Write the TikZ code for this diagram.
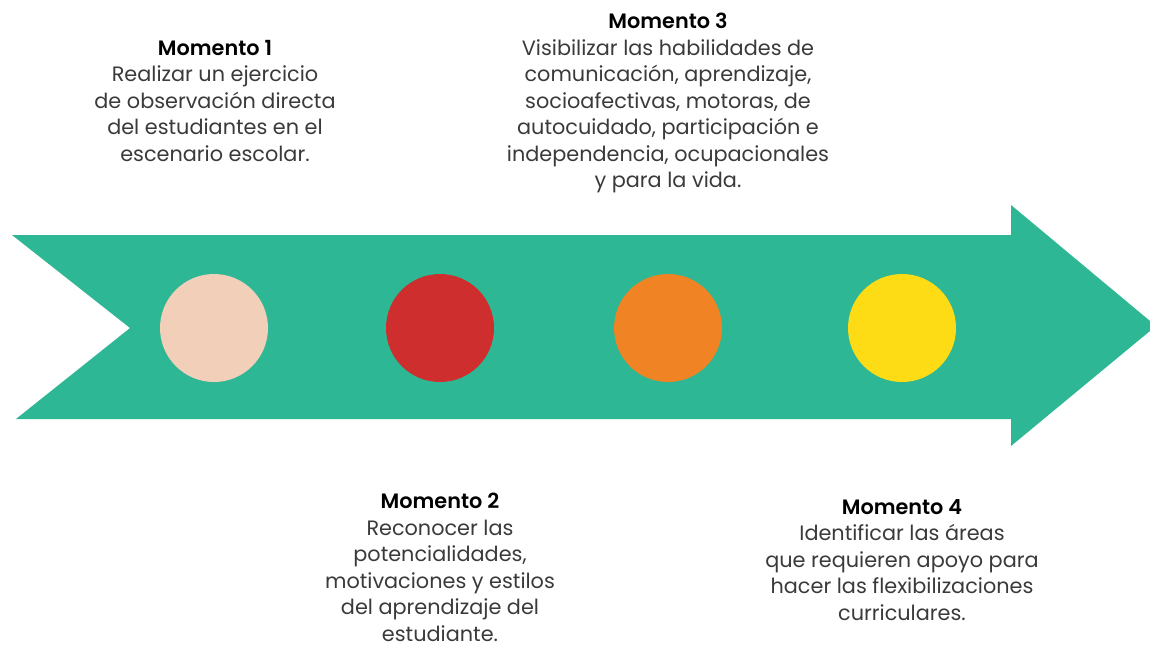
\documentclass[tikz,border=0pt]{standalone}
\usepackage{fontspec}
\setmainfont{Poppins}[BoldFont={Poppins SemiBold}]
\definecolor{flecha}{HTML}{2DB795}
\definecolor{durazno}{HTML}{F2CFB8}
\definecolor{rojo}{HTML}{CE2E2E}
\definecolor{naranja}{HTML}{F08424}
\definecolor{amarillo}{HTML}{FDDC16}
\definecolor{texto}{HTML}{3A3A3A}
\tikzset{
  punto/.style={circle, minimum size=108pt, inner sep=0pt},
  momento/.style={anchor=north, align=center, text=texto, inner sep=0pt, font=\fontsize{20.8}{26.5}\selectfont},
}
\begin{document}
\begin{tikzpicture}[x=1pt,y=-1pt]
\useasboundingbox (0,0) rectangle (1150,648);
\clip (0,0) rectangle (1150,648);

% flecha
\fill[flecha] (12,235) -- (1011,235) -- (1011,205) -- (1156,326) -- (1011,446) -- (1011,419) -- (16,419) -- (130,328) -- cycle;

% puntos
\node[punto, fill=durazno] (p1) at (214,328) {};
\node[punto, fill=rojo] (p2) at (440,328) {};
\node[punto, fill=naranja] (p3) at (668,328) {};
\node[punto, fill=amarillo] (p4) at (902,328) {};

% textos
\node[momento] (m1) at (215,40) {\textbf{\color{black}Momento 1}\\Realizar un ejercicio\\de observación directa\\del estudiantes en el\\escenario escolar.};
\node[momento] (m3) at (668,13) {\textbf{\color{black}Momento 3}\\Visibilizar las habilidades de\\comunicación, aprendizaje,\\socioafectivas, motoras, de\\autocuidado, participación e\\independencia, ocupacionales\\y para la vida.};
\node[momento] (m2) at (440,493) {\textbf{\color{black}Momento 2}\\Reconocer las\\potencialidades,\\motivaciones y estilos\\del aprendizaje del\\estudiante.};
\node[momento] (m4) at (902,499) {\textbf{\color{black}Momento 4}\\Identificar las áreas\\que requieren apoyo para\\hacer las flexibilizaciones\\curriculares.};
\end{tikzpicture}
\end{document}
